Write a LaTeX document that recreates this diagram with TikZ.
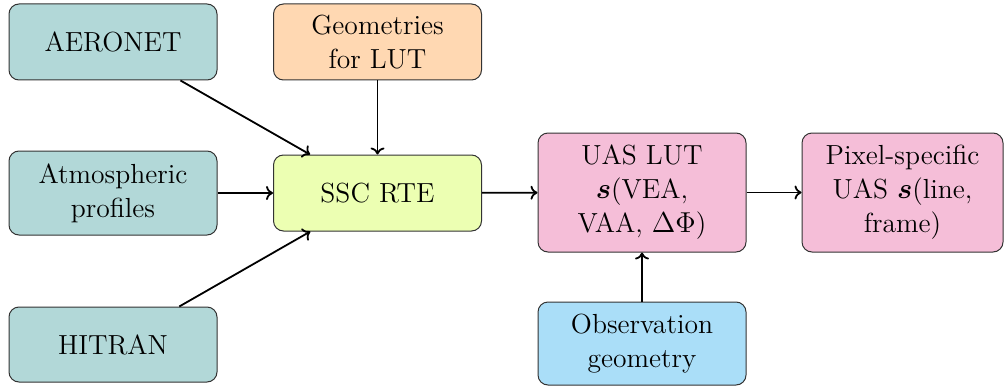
\documentclass[tikz,border=0pt]{standalone}
\usepackage{bm}
\usetikzlibrary{arrows.meta}
\definecolor{cteal}{RGB}{178,216,216}
\definecolor{cpeach}{RGB}{255,216,178}
\definecolor{clime}{RGB}{236,255,178}
\definecolor{cpink}{RGB}{245,190,216}
\definecolor{cblue}{RGB}{170,222,248}
\begin{document}
\begin{tikzpicture}[
  box/.style={draw=black!80, line width=0.5pt, rounded corners=5pt, align=center,
    minimum width=104pt, minimum height=38pt, inner sep=3pt,
    font=\fontsize{13.8}{17}\selectfont},
  arr/.style={-{To[length=3.5pt,width=7pt]}, line width=0.9pt}
]
\useasboundingbox (0pt,0pt) rectangle (502pt,-195pt);
\node[box, fill=cteal] (aer) at (56.5pt,-21pt) {AERONET};
\node[box, fill=cteal, minimum height=42pt] (atm) at (56.5pt,-96.5pt) {Atmospheric\\profiles};
\node[box, fill=cteal, minimum height=37.5pt] (hit) at (56.5pt,-172.25pt) {HITRAN};
\node[box, fill=cpeach] (geo) at (188.75pt,-21pt) {Geometries\\for LUT};
\node[box, fill=clime] (ssc) at (188.75pt,-96.5pt) {SSC RTE};
\node[box, fill=cpink, minimum height=59.5pt] (uas) at (321pt,-96.25pt) {UAS LUT\\$\bm{s}$(VEA,\\VAA, $\Delta\Phi$)};
\node[box, fill=cpink, minimum height=59.5pt, minimum width=100.5pt] (pix) at (451.25pt,-96.25pt) {Pixel-specific\\UAS $\bm{s}$(line,\\frame)};
\node[box, fill=cblue, minimum height=41.5pt] (obs) at (321pt,-171.75pt) {Observation\\geometry};
\draw[arr] (aer) -- (ssc);
\draw[arr] (atm) -- (ssc);
\draw[arr] (hit) -- (ssc);
\draw[arr] (geo) -- (ssc);
\draw[arr] (ssc) -- (uas);
\draw[arr] (uas) -- (pix);
\draw[arr] (obs) -- (uas);
\end{tikzpicture}
\end{document}
